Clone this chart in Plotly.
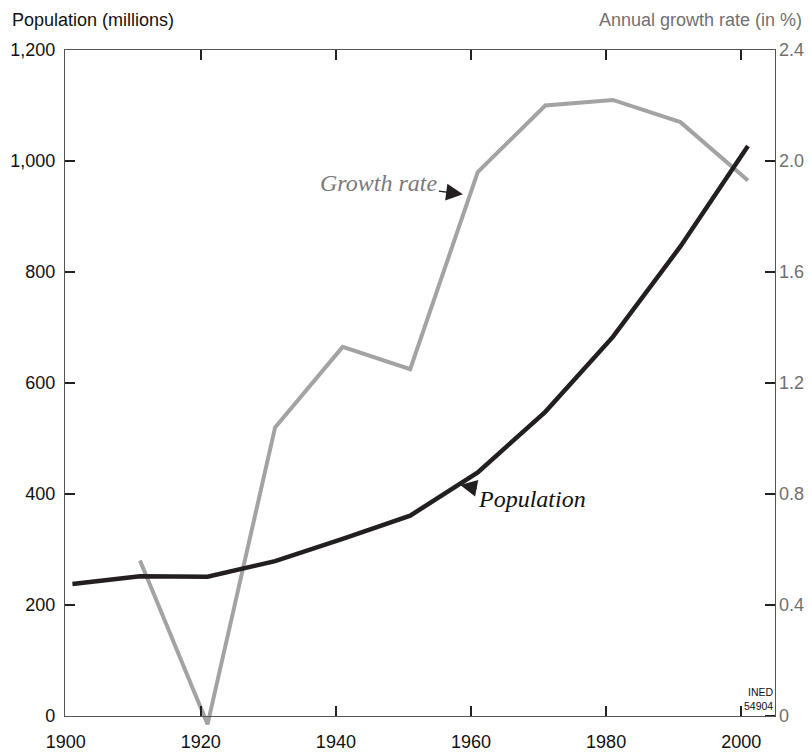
import plotly.graph_objects as go

years = [1901, 1911, 1921, 1931, 1941, 1951, 1961, 1971, 1981, 1991, 2001]
population = [238, 252, 251, 279, 319, 361, 439, 548, 683, 846, 1027]
growth_years = [1911, 1921, 1931, 1941, 1951, 1961, 1971, 1981, 1991, 2001]
growth_rate = [0.56, -0.03, 1.04, 1.33, 1.25, 1.96, 2.20, 2.22, 2.14, 1.93]

left_ticks = [0, 200, 400, 600, 800, 1000, 1200]
right_ticks = [0, 0.4, 0.8, 1.2, 1.6, 2.0, 2.4]
right_labels = ["0", "0.4", "0.8", "1.2", "1.6", "2.0", "2.4"]
x_ticks = [1900, 1920, 1940, 1960, 1980, 2000]

GRAY = "#a3a3a3"
BLACK = "#231f20"
AXC = "#555555"
TKC = "#222222"
LABG = "#707070"
FONT = "Liberation Sans, Arial, sans-serif"
SERIF = "Liberation Serif, Times New Roman, serif"

# paper area: x 65..775, y 50..730; the framed chart is y 50..716
PH = 680.0
PW = 710.0
below = 14.0
y2_lo = -2.4 * below / (PH - below)
x_range = [1899.9, 2005]

fig = go.Figure()
# growth rate on subplot x/y (its area reaches a little below the frame so the dip shows)
fig.add_trace(go.Scatter(x=growth_years, y=growth_rate, xaxis="x", yaxis="y", mode="lines",
                         line=dict(color=GRAY, width=4),
                         showlegend=False, hoverinfo="skip"))
# population on subplot x2/y2 (the framed chart)
fig.add_trace(go.Scatter(x=years, y=population, xaxis="x2", yaxis="y2", mode="lines",
                         line=dict(color=BLACK, width=4.5),
                         showlegend=False, hoverinfo="skip"))

fig.update_layout(
    width=812, height=756,
    margin=dict(l=65, r=37, t=50, b=26, pad=0, autoexpand=False),
    paper_bgcolor="white", plot_bgcolor="rgba(0,0,0,0)",
    font=dict(family=FONT, size=18, color="#111111"),
    xaxis=dict(range=x_range, visible=False, anchor="y", domain=[0, 1], automargin=False),
    yaxis=dict(range=[y2_lo, 2.4], domain=[0, 1], side="right", anchor="x",
               tickvals=right_ticks, ticktext=right_labels, ticks="inside", ticklen=10,
               tickwidth=1.5, tickcolor=TKC, showline=False, showgrid=False,
               zeroline=False, automargin=False, ticklabelstandoff=3,
               tickfont=dict(size=18, color=LABG)),
    xaxis2=dict(range=x_range, anchor="y2", domain=[0, 1], tickvals=x_ticks,
                ticks="inside", ticklen=10, tickwidth=1.5, tickcolor=TKC, showline=True,
                linecolor=AXC, linewidth=1.2, mirror="ticks", showgrid=False,
                zeroline=False, ticklabelstandoff=9, automargin=False,
                tickfont=dict(size=18, color="#111111")),
    yaxis2=dict(range=[0, 1200], domain=[below / PH, 1], side="left", anchor="x2",
                tickvals=left_ticks, tickformat=",d", ticks="inside", ticklen=10,
                tickwidth=1.5, tickcolor=TKC, showline=True, linecolor=AXC, linewidth=1.2,
                mirror=True, showgrid=False, zeroline=False, ticklabelstandoff=5,
                automargin=False, tickfont=dict(size=18, color="#111111")),
)

fig.add_annotation(xref="paper", yref="paper", x=(10 - 65) / PW, y=1 + 30 / PH,
                   xanchor="left", yanchor="middle", text="Population (millions)",
                   showarrow=False, font=dict(size=18, color="#111111"))
fig.add_annotation(xref="paper", yref="paper", x=1 + 29 / PW, y=1 + 30 / PH,
                   xanchor="right", yanchor="middle", text="Annual growth rate (in %)",
                   showarrow=False, font=dict(size=18, color=LABG))

fig.add_annotation(x=1958.8, y=1.88, xref="x", yref="y", text="<i>Growth rate</i>",
                   showarrow=True, arrowhead=2, arrowsize=2.4, arrowwidth=1.4,
                   arrowcolor=BLACK, ax=-84, ay=-11,
                   font=dict(family=SERIF, size=24, color="#7a7a7a"))
fig.add_annotation(x=1958.4, y=416, xref="x2", yref="y2", text="<i>Population</i>",
                   showarrow=True, arrowhead=2, arrowsize=2.4, arrowwidth=1.4,
                   arrowcolor=BLACK, ax=72, ay=14,
                   font=dict(family=SERIF, size=24, color="#111111"))

fig.add_annotation(xref="paper", yref="paper", x=1, y=(below + 3) / PH,
                   xanchor="right", yanchor="bottom",
                   text="INED<br>54904", showarrow=False, align="right",
                   font=dict(family=FONT, size=10.5, color="#111111"),
                   borderpad=0)

fig.write_html("out.html", config={"displayModeBar": False},
               post_script="document.body.style.margin='0';")
